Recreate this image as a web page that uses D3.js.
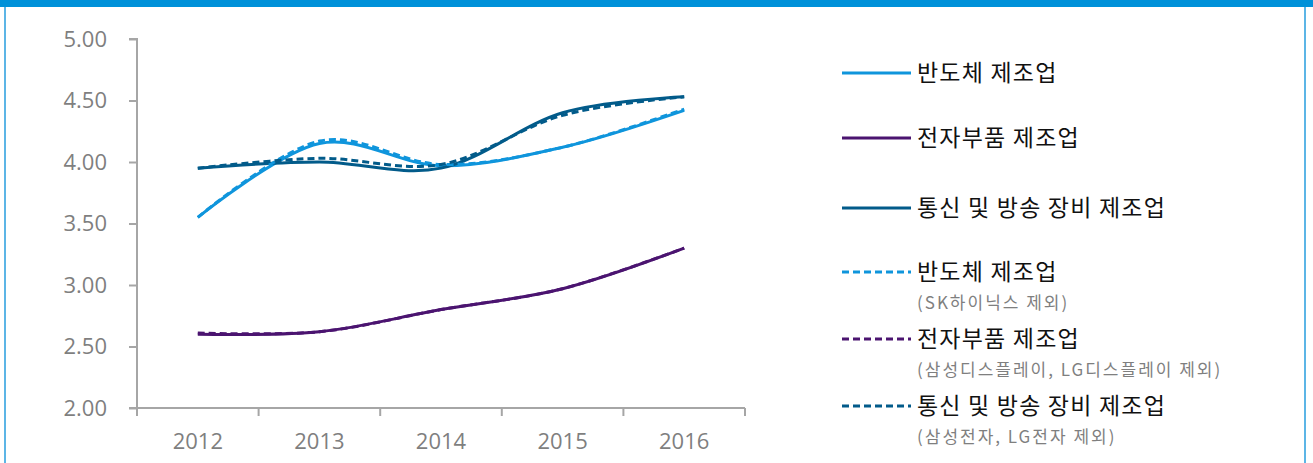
<!DOCTYPE html>
<html><head><meta charset="utf-8">
<script src="https://cdn.jsdelivr.net/npm/d3@7"></script>
<style>
html,body{margin:0;padding:0;background:#fff;}
svg{display:block;}
</style></head>
<body>
<svg id="chart" width="1313" height="463"></svg>
<script>
const years = ["2012","2013","2014","2015","2016"];
const yTicks = [2.0, 2.5, 3.0, 3.5, 4.0, 4.5, 5.0];
const semi = [3.55, 4.15, 3.97, 4.12, 4.42];
const elec = [2.60, 2.62, 2.80, 2.97, 3.30];
const telecom = [3.95, 4.00, 3.95, 4.40, 4.53];
const semiEx = [3.55, 4.17, 3.98, 4.12, 4.43];
const elecEx = [2.61, 2.62, 2.80, 2.97, 3.30];
const telecomEx = [3.95, 4.03, 3.98, 4.38, 4.53];
const seriesNames = ["반도체 제조업","전자부품 제조업","통신 및 방송 장비 제조업","반도체 제조업","전자부품 제조업","통신 및 방송 장비 제조업"];
const seriesNotes = ["","","","(SK하이닉스 제외)","(삼성디스플레이, LG디스플레이 제외)","(삼성전자, LG전자 제외)"];

const colors = ["#0f95dc","#4b1470","#025b8a"];
const series = [
  {vals: semi, c: colors[0], dash: false},
  {vals: elec, c: colors[1], dash: false},
  {vals: telecom, c: colors[2], dash: false},
  {vals: semiEx, c: colors[0], dash: true},
  {vals: elecEx, c: colors[1], dash: true},
  {vals: telecomEx, c: colors[2], dash: true}
];

const svg = d3.select("#chart");
// frame
svg.append("rect").attr("x",0).attr("y",0).attr("width",1313).attr("height",7).attr("fill","#0091d9");
svg.append("rect").attr("x",4).attr("y",7).attr("width",2).attr("height",456).attr("fill","#5cb5e6");
svg.append("rect").attr("x",1304).attr("y",7).attr("width",2).attr("height",456).attr("fill","#5cb5e6");

const L = 137, R = 745, T = 39, B = 408;
const x = d3.scaleBand().domain(years).range([L, R]);
const y = d3.scaleLinear().domain([2, 5]).range([B, T]);
const font = "'Open Sans', 'Noto Sans', sans-serif";
const axisColor = "#a6a6a6";

const ya = svg.append("g").attr("transform", `translate(${L},0)`)
  .call(d3.axisLeft(y).tickValues(yTicks).tickFormat(d3.format(".2f")).tickSize(8).tickPadding(22));
ya.select(".domain").attr("stroke", axisColor).attr("stroke-width", 2).attr("d", `M-8,${T}H0V${B}H-8`);
ya.selectAll(".tick line").attr("stroke", axisColor).attr("stroke-width", 2);
ya.selectAll(".tick text").attr("fill", "#7f7f7f").style("font-family", font).style("font-size", "22px");

const xa = svg.append("g").attr("transform", `translate(0,${B})`)
  .call(d3.axisBottom(x).tickSize(0).tickPadding(25));
xa.select(".domain").attr("stroke", axisColor).attr("stroke-width", 2).attr("d", `M${L},0H${R}`);
xa.selectAll(".tick text").attr("fill", "#7f7f7f").style("font-family", font).style("font-size", "22px");
const bounds = years.map(d => x(d)).concat([x(years[years.length-1]) + x.bandwidth()]);
xa.selectAll("line.bt").data(bounds).enter().append("line").attr("class","bt")
  .attr("x1", d => d).attr("x2", d => d).attr("y1", 0).attr("y2", 8)
  .attr("stroke", axisColor).attr("stroke-width", 2);

const line = d3.line()
  .x((d, i) => x(years[i]) + x.bandwidth() / 2)
  .y(d => y(d))
  .curve(d3.curveCardinal.tension(0));

series.forEach(s => {
  svg.append("path").datum(s.vals).attr("d", line)
    .attr("fill", "none").attr("stroke", s.c).attr("stroke-width", 3)
    .attr("stroke-dasharray", s.dash ? "7,4" : null);
});

// legend
const legRows = [73, 138, 208, 272, 339, 406];
const lg = svg.append("g");
seriesNames.forEach((name, i) => {
  const s = series[i];
  const yy = legRows[i];
  lg.append("line").attr("x1", 842).attr("x2", 911).attr("y1", yy).attr("y2", yy)
    .attr("stroke", s.c).attr("stroke-width", 3).attr("stroke-dasharray", s.dash ? "7,4" : null);
  lg.append("text").attr("x", 917).attr("y", yy).attr("dy", "0.35em")
    .attr("fill", "#111").style("font-family", "'Noto Sans CJK KR', sans-serif").style("font-size", "23px")
    .style("letter-spacing", "1.2px")
    .text(name);
  if (seriesNotes[i]) {
    lg.append("text").attr("x", 917).attr("y", yy + 31).attr("dy", "0.35em")
      .attr("fill", "#7f7f7f").style("font-family", "'Noto Sans CJK KR', sans-serif").style("font-size", "17px")
      .style("letter-spacing", "2px")
      .text(seriesNotes[i]);
  }
});
</script>
</body></html>
